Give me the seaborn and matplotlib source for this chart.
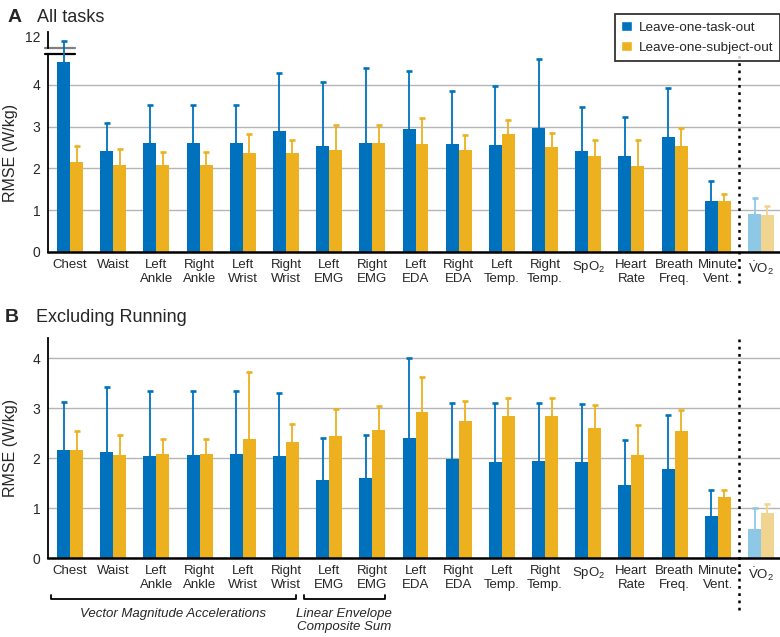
import numpy as np
import pandas as pd
import matplotlib
matplotlib.use("Agg")
import matplotlib.pyplot as plt
import matplotlib.transforms as mtransforms
from matplotlib.patches import Patch
import seaborn as sns

sensors = ["Chest", "Waist", "Left\nAnkle", "Right\nAnkle", "Left\nWrist", "Right\nWrist",
           "Left\nEMG", "Right\nEMG", "Left\nEDA", "Right\nEDA", "Left\nTemp.", "Right\nTemp.",
           "SpO$_2$", "Heart\nRate", "Breath\nFreq.", "Minute\nVent.", r"$\dot{\mathrm{V}}$O$_2$"]
methods = ["Leave-one-task-out", "Leave-one-subject-out"]

# panel A - all tasks: bar value and top of error bar
a_task = [4.56, 2.42, 2.61, 2.61, 2.61, 2.90, 2.53, 2.62, 2.94, 2.59, 2.56, 2.96, 2.41, 2.29, 2.75, 1.23, 0.91]
a_task_hi = [11.7, 3.08, 3.51, 3.51, 3.51, 4.28, 4.07, 4.40, 4.33, 3.86, 3.97, 4.61, 3.46, 3.23, 3.93, 1.70, 1.30]
a_subj = [2.16, 2.08, 2.08, 2.08, 2.38, 2.38, 2.43, 2.62, 2.59, 2.43, 2.83, 2.51, 2.31, 2.06, 2.54, 1.23, 0.88]
a_subj_hi = [2.54, 2.46, 2.39, 2.39, 2.82, 2.69, 3.05, 3.05, 3.21, 2.79, 3.16, 2.84, 2.69, 2.67, 2.97, 1.38, 1.09]

# panel B - excluding running
b_task = [2.17, 2.13, 2.05, 2.06, 2.08, 2.05, 1.57, 1.61, 2.41, 1.99, 1.92, 1.94, 1.93, 1.47, 1.79, 0.85, 0.59]
b_task_hi = [3.13, 3.43, 3.35, 3.35, 3.35, 3.31, 2.41, 2.46, 4.00, 3.11, 3.11, 3.11, 3.08, 2.37, 2.86, 1.37, 1.00]
b_subj = [2.17, 2.07, 2.09, 2.09, 2.39, 2.33, 2.45, 2.57, 2.92, 2.75, 2.84, 2.84, 2.60, 2.07, 2.54, 1.23, 0.91]
b_subj_hi = [2.54, 2.46, 2.39, 2.39, 3.72, 2.68, 2.98, 3.05, 3.63, 3.15, 3.20, 3.20, 3.06, 2.67, 2.97, 1.37, 1.08]

BLUE, ORANGE = "#0072BD", "#EDB120"
LIGHT = ["#8DC9E6", "#F2D491"]

sns.set_style("white")
plt.rcParams["font.family"] = ["Liberation Sans", "DejaVu Sans"]
plt.rcParams["mathtext.fontset"] = "custom"
plt.rcParams["mathtext.rm"] = "Liberation Sans"
plt.rcParams["mathtext.it"] = "Liberation Sans:italic"

XLIM = (-0.51, 16.44)


def draw_bars(ax, task, task_hi, subj, subj_hi):
    df = pd.DataFrame({
        "sensor": sensors * 2,
        "method": [methods[0]] * len(sensors) + [methods[1]] * len(sensors),
        "rmse": task + subj,
    })
    sns.barplot(data=df, x="sensor", y="rmse", hue="method", order=sensors, hue_order=methods,
                palette=[BLUE, ORANGE], width=0.6, errorbar=None, saturation=1,
                legend=False, linewidth=0, ax=ax)
    for k, (cont, his, col) in enumerate(zip(ax.containers, [task_hi, subj_hi], [BLUE, ORANGE])):
        bars = sorted(cont.patches, key=lambda p: p.get_x())
        bars[-1].set_facecolor(LIGHT[k])
        xs = np.array([b.get_x() + b.get_width() / 2 for b in bars])
        ys = np.array([b.get_height() for b in bars])
        up = np.array(his) - ys
        cols = [col] * (len(bars) - 1) + [LIGHT[k]]
        for x, y, u, c in zip(xs, ys, up, cols):
            eb = ax.errorbar([x], [y], yerr=[[0], [u]], fmt="none", ecolor=c, elinewidth=1.3,
                             capsize=1.9, capthick=1.9, zorder=3)
            eb[1][0].set_visible(False)  # no cap at the bar top
    ax.set_xlim(*XLIM)
    ax.set_xlabel("")
    ax.set_ylabel("")


def style_axis(ax, ymax, dot_bottom):
    ax.set_ylim(0, ymax)
    ax.set_yticks([0, 1, 2, 3, 4])
    ax.yaxis.grid(True, color="#b5b5b5", lw=1)
    ax.set_axisbelow(True)
    for s in ["top", "right"]:
        ax.spines[s].set_visible(False)
    ax.spines["left"].set_linewidth(1.3)
    ax.spines["left"].set_color("black")
    ax.spines["bottom"].set_linewidth(1.8)
    ax.spines["bottom"].set_color("black")
    ax.tick_params(axis="both", length=0, labelsize=10)
    ax.tick_params(axis="y", pad=5.5)
    ax.tick_params(axis="x", pad=5, labelsize=9.5)
    ax.set_ylabel("RMSE (W/kg)", fontsize=11.5)
    ax.yaxis.set_label_coords(-0.041, 0.5)
    ax.axvline(15.5, ymin=dot_bottom, ymax=1.0, clip_on=False, color="black",
               ls=(0, (1.1, 1.8)), lw=1.8, zorder=4)


fig = plt.figure(figsize=(7.8, 6.37), dpi=100)
W, H = 780, 637

# Panel A (broken axis)
axA = fig.add_axes([48 / W, 1 - 252 / H, 732 / W, 198 / H])
axA_top = fig.add_axes([48 / W, 1 - 54 / H, 732 / W, 22 / H])
draw_bars(axA, a_task, a_task_hi, a_subj, a_subj_hi)
style_axis(axA, 4.74, -0.157)
draw_bars(axA_top, a_task, a_task_hi, a_subj, a_subj_hi)
axA_top.set_ylim(10.9, 12.3)
axA_top.set_yticks([12])
axA_top.set_xticks([])
for s in ["top", "right", "bottom"]:
    axA_top.spines[s].set_visible(False)
axA_top.spines["left"].set_bounds(11.28, 12.3)
axA_top.spines["left"].set_linewidth(1.3)
axA_top.spines["left"].set_color("black")
axA_top.tick_params(axis="y", length=0, pad=5.5, labelsize=10)
axA_top.patch.set_alpha(0)

# break marks
axA.plot([-0.004, 0.037], [1, 1], transform=axA.transAxes, color="black", lw=1.6, clip_on=False)
tr_top = mtransforms.blended_transform_factory(axA_top.transAxes, axA_top.transData)
axA_top.plot([-0.004, 0.037], [11.28, 11.28], transform=tr_top, color="#808080", lw=1.6, clip_on=False)

# Panel B
axB = fig.add_axes([48 / W, 1 - 558 / H, 732 / W, 220 / H])
draw_bars(axB, b_task, b_task_hi, b_subj, b_subj_hi)
style_axis(axB, 4.4, -0.236)

# group brackets under panel B
trB = mtransforms.blended_transform_factory(axB.transData, axB.transAxes)
for x0, x1 in [(-0.44, 5.23), (5.42, 7.29)]:
    axB.plot([x0, x0, x1, x1], [-0.168, -0.186, -0.186, -0.168], transform=trB,
             color="black", lw=1.3, clip_on=False)
axB.text(2.38, -0.225, "Vector Magnitude Accelerations", transform=trB, style="italic",
         ha="center", va="top", fontsize=9.5)
axB.text(6.34, -0.225, "Linear Envelope\nComposite Sum", transform=trB, style="italic",
         ha="center", va="top", fontsize=9.5, linespacing=1.15)

# panel titles
fig.text(8 / W, 1 - 18 / H, "A", fontsize=14, fontweight="bold", va="center")
fig.text(37 / W, 1 - 18 / H, "All tasks", fontsize=13, va="center")
fig.text(5 / W, 1 - 318 / H, "B", fontsize=14, fontweight="bold", va="center")
fig.text(36 / W, 1 - 318 / H, "Excluding Running", fontsize=13, va="center")

# legend
handles = [Patch(facecolor=BLUE), Patch(facecolor=ORANGE)]
leg = fig.legend(handles, methods, loc="upper right", bbox_to_anchor=(1.0, 1 - 14 / H),
                 borderaxespad=0, fontsize=9.7, frameon=True, fancybox=False,
                 edgecolor="black", handlelength=0.8, handleheight=0.8,
                 handletextpad=0.5, labelspacing=0.55, borderpad=0.5)
leg.get_frame().set_linewidth(1.3)

fig.savefig("out.png", dpi=100)
